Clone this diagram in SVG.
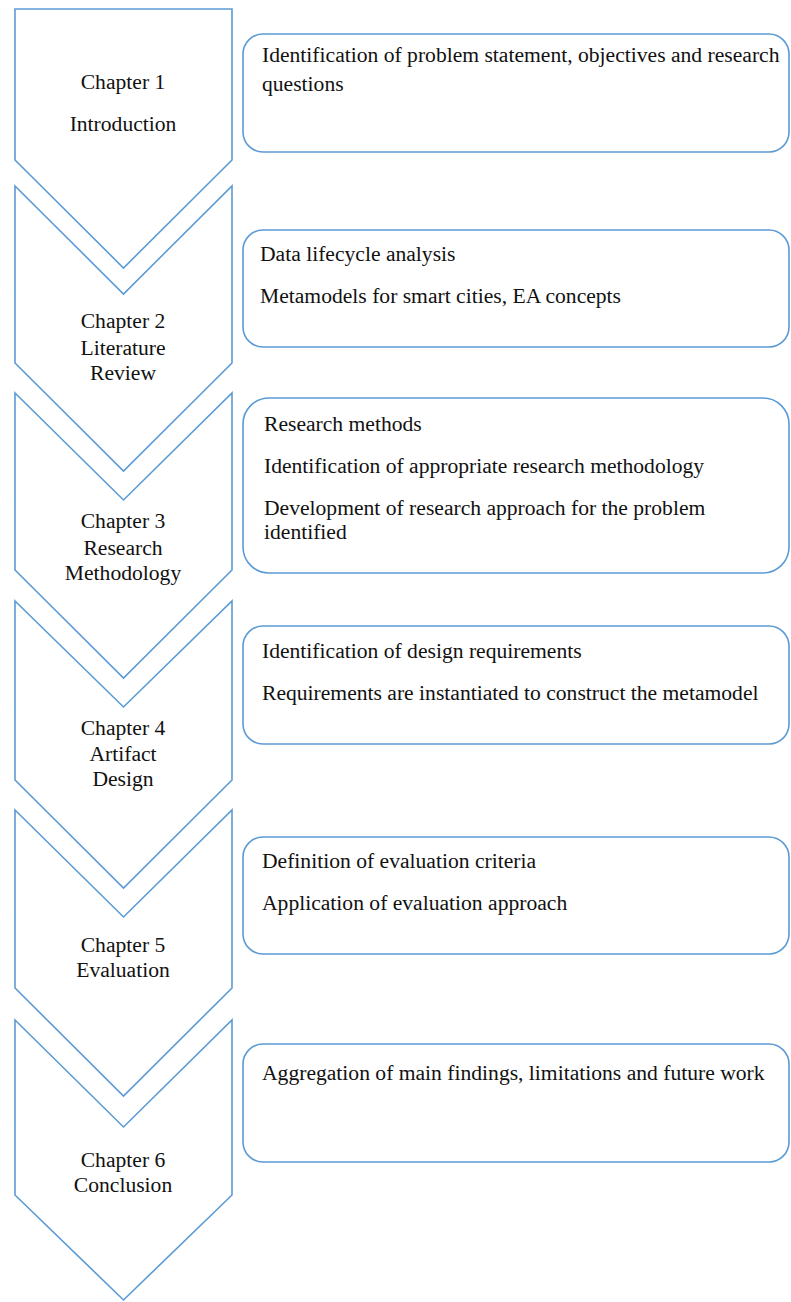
<svg xmlns="http://www.w3.org/2000/svg" width="791" height="1302" viewBox="0 0 791 1302">
  <style>
    .chev { fill: #ffffff; stroke: #5b9bd5; stroke-width: 1.6; stroke-linejoin: miter; }
    .box { fill: #ffffff; stroke: #5b9bd5; stroke-width: 1.6; }
    text { font-family: "Liberation Serif", "Times New Roman", serif; font-size: 21.6px; fill: #111111; }
    .lbl { text-anchor: middle; }
  </style>
  <rect x="0" y="0" width="791" height="1302" fill="#ffffff"/>

  <!-- Chapter 1 -->
  <g id="chapter1">
    <path class="chev" d="M15,9 L232,9 L232,160 L123.5,268 L15,160 Z"/>
    <text class="lbl" x="123" y="89">Chapter 1</text>
    <text class="lbl" x="123" y="131">Introduction</text>
  </g>
  <g id="box1">
    <rect class="box" x="243" y="34" width="546" height="118" rx="20" ry="20"/>
    <text x="262" y="62">Identification of problem statement, objectives and research</text>
    <text x="262" y="91">questions</text>
  </g>

  <!-- Chapter 2 -->
  <g id="chapter2">
    <path class="chev" d="M15,186 L123.5,294 L232,186 L232,363 L123.5,471 L15,363 Z"/>
    <text class="lbl" x="123" y="328">Chapter 2</text>
    <text class="lbl" x="123" y="355">Literature</text>
    <text class="lbl" x="123" y="380">Review</text>
  </g>
  <g id="box2">
    <rect class="box" x="243" y="230" width="546" height="117" rx="20" ry="20"/>
    <text x="260" y="261">Data lifecycle analysis</text>
    <text x="260" y="303">Metamodels for smart cities, EA concepts</text>
  </g>

  <!-- Chapter 3 -->
  <g id="chapter3">
    <path class="chev" d="M15,393 L123.5,500 L232,393 L232,570 L123.5,678 L15,570 Z"/>
    <text class="lbl" x="123" y="528">Chapter 3</text>
    <text class="lbl" x="123" y="555">Research</text>
    <text class="lbl" x="123" y="580">Methodology</text>
  </g>
  <g id="box3">
    <rect class="box" x="243" y="398" width="546" height="175" rx="26" ry="26"/>
    <text x="264" y="431">Research methods</text>
    <text x="264" y="473">Identification of appropriate research methodology</text>
    <text x="264" y="515">Development of research approach for the problem</text>
    <text x="264" y="539">identified</text>
  </g>

  <!-- Chapter 4 -->
  <g id="chapter4">
    <path class="chev" d="M15,601 L123.5,707 L232,601 L232,780 L123.5,888 L15,780 Z"/>
    <text class="lbl" x="123" y="735">Chapter 4</text>
    <text class="lbl" x="123" y="761">Artifact</text>
    <text class="lbl" x="123" y="786">Design</text>
  </g>
  <g id="box4">
    <rect class="box" x="243" y="626" width="546" height="118" rx="20" ry="20"/>
    <text x="262" y="658">Identification of design requirements</text>
    <text x="262" y="700">Requirements are instantiated to construct the metamodel</text>
  </g>

  <!-- Chapter 5 -->
  <g id="chapter5">
    <path class="chev" d="M15,810 L123.5,917 L232,810 L232,988 L123.5,1096 L15,988 Z"/>
    <text class="lbl" x="123" y="952">Chapter 5</text>
    <text class="lbl" x="123" y="977">Evaluation</text>
  </g>
  <g id="box5">
    <rect class="box" x="243" y="837" width="546" height="117" rx="20" ry="20"/>
    <text x="262" y="868">Definition of evaluation criteria</text>
    <text x="262" y="910">Application of evaluation approach</text>
  </g>

  <!-- Chapter 6 -->
  <g id="chapter6">
    <path class="chev" d="M15,1020 L123.5,1127 L232,1020 L232,1195 L123.5,1300 L15,1195 Z"/>
    <text class="lbl" x="123" y="1167">Chapter 6</text>
    <text class="lbl" x="123" y="1192">Conclusion</text>
  </g>
  <g id="box6">
    <rect class="box" x="243" y="1044" width="546" height="118" rx="20" ry="20"/>
    <text x="262" y="1080">Aggregation of main findings, limitations and future work</text>
  </g>
</svg>
